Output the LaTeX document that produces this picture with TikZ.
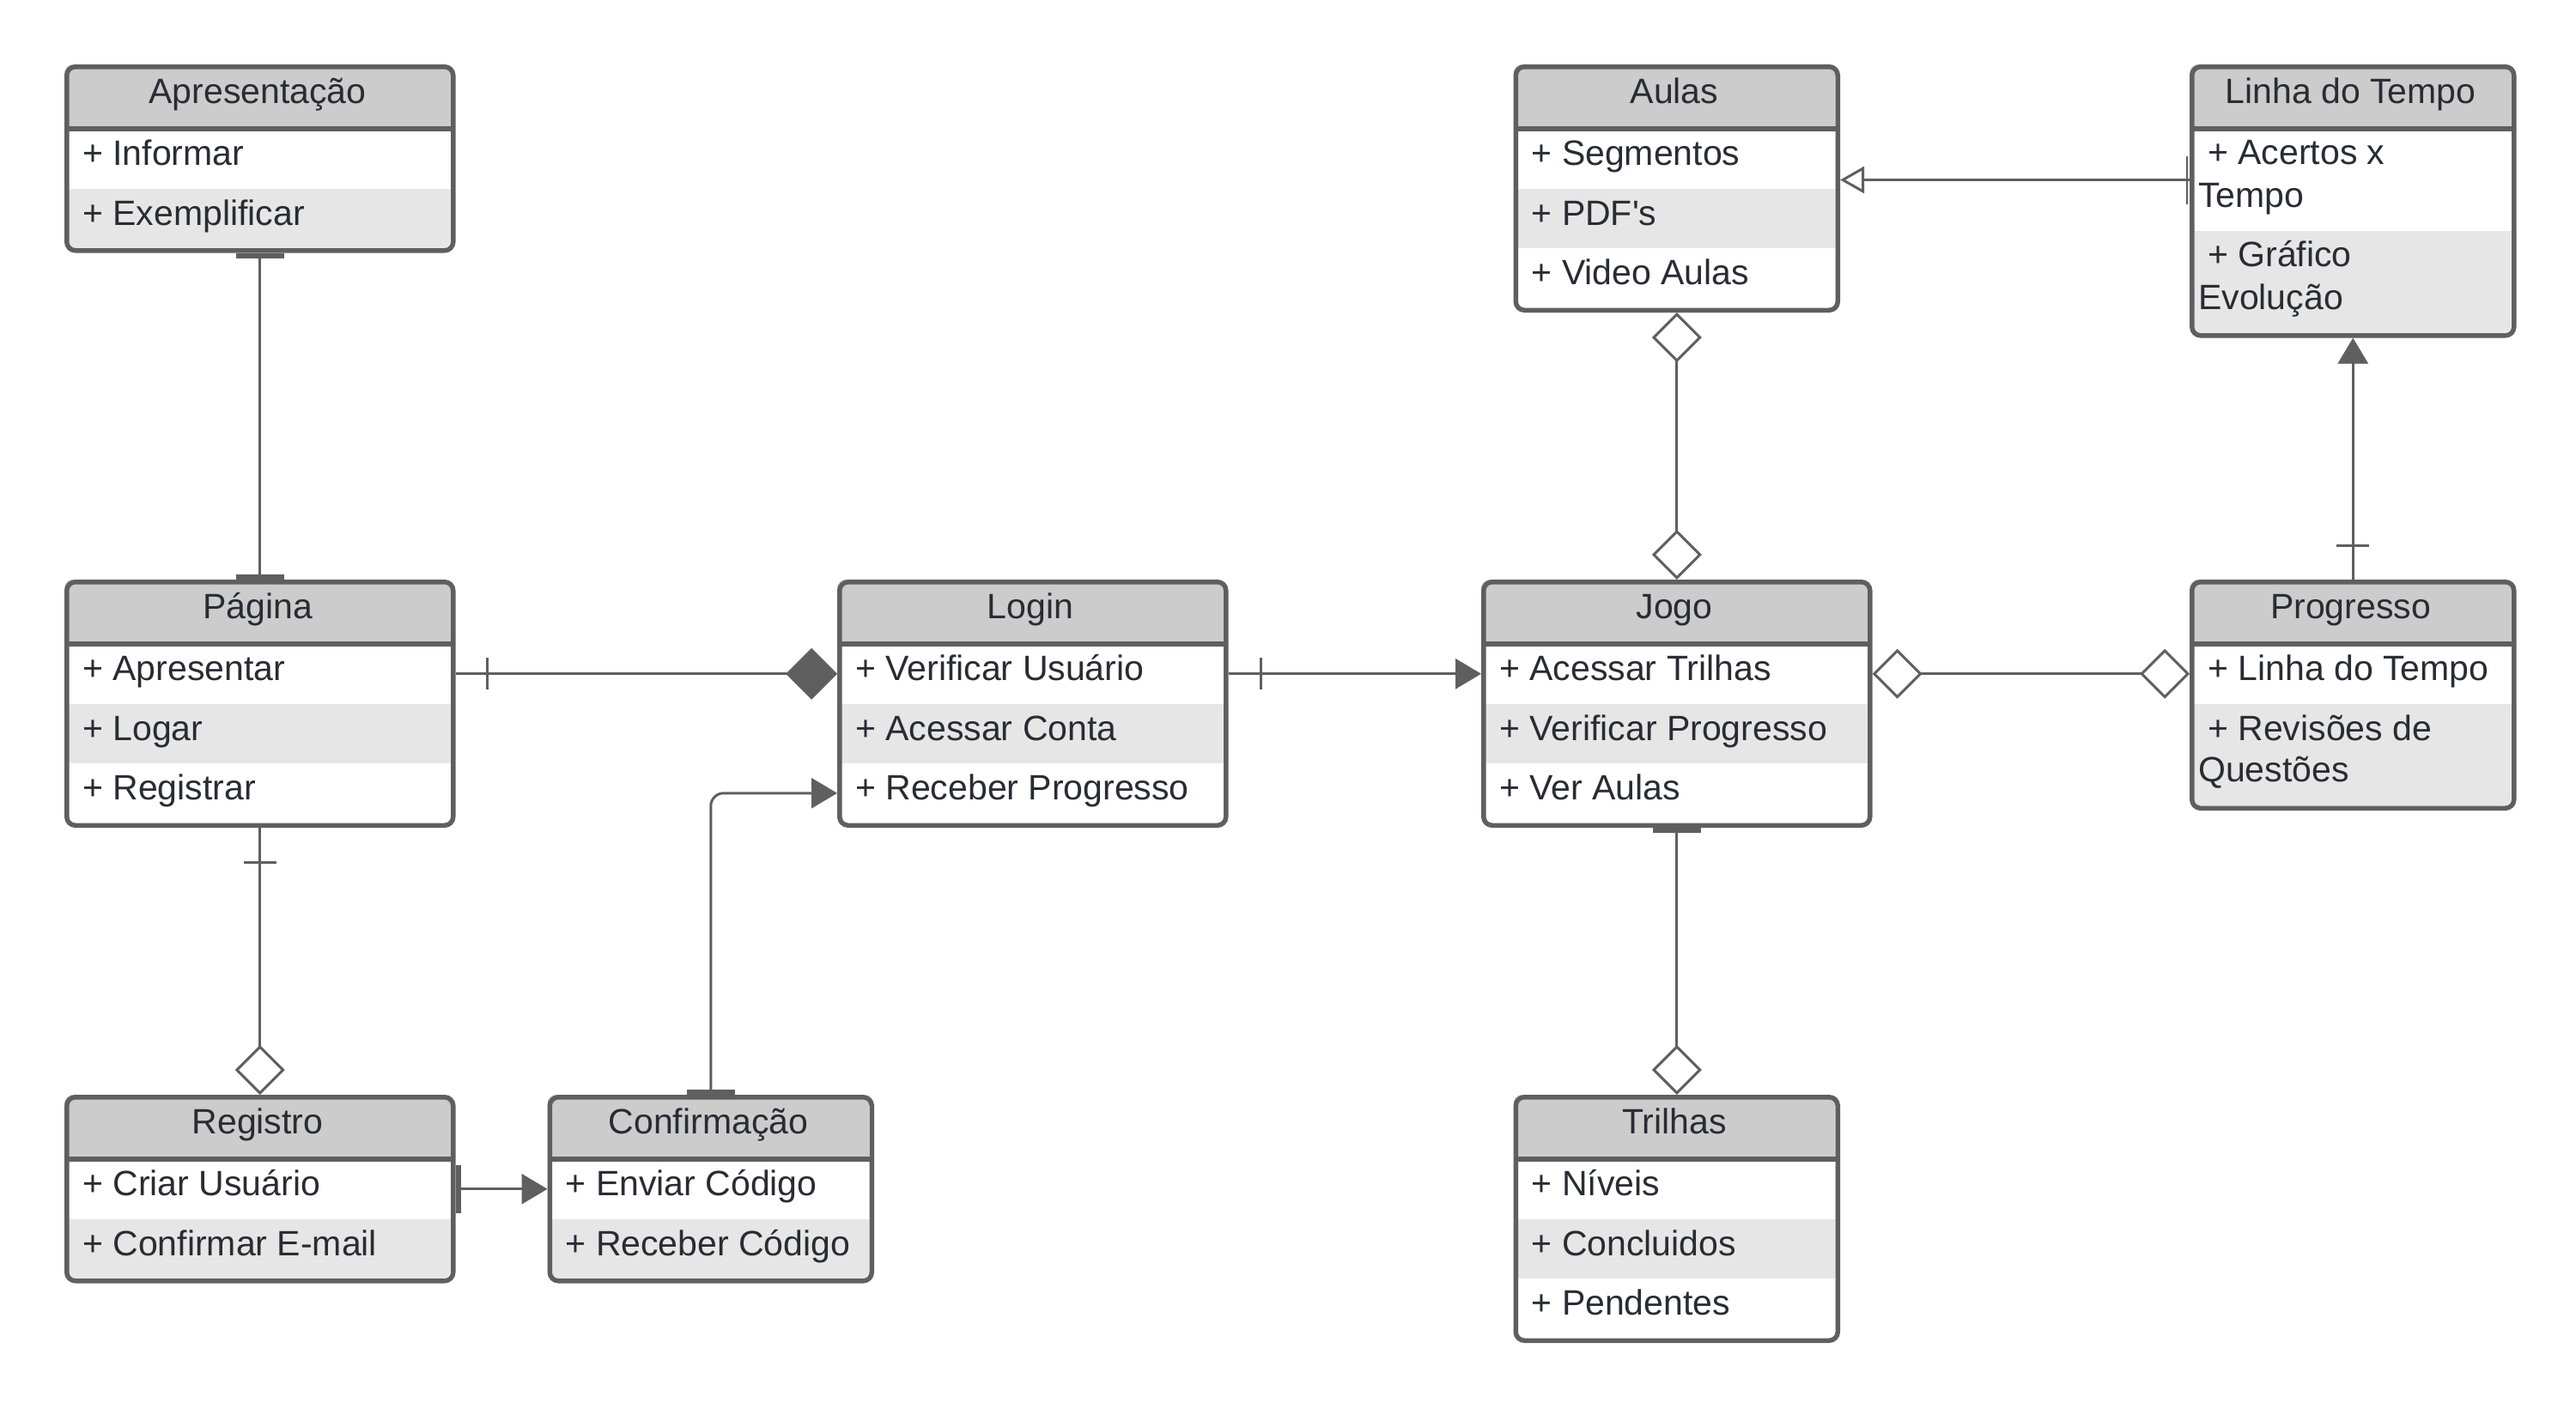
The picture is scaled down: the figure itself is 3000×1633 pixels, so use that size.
\documentclass[tikz,border=0pt]{standalone}
\usepackage{fontspec}
\setmainfont{Liberation Sans}[Ligatures=TeXOff]
\usetikzlibrary{arrows.meta,calc}
\definecolor{linec}{HTML}{5F5F5F}
\definecolor{hdrc}{HTML}{CCCCCC}
\definecolor{altc}{HTML}{E6E6E6}
\definecolor{txtc}{HTML}{282C33}
\tikzset{
  frame/.style={draw=linec, line width=5.5pt, rounded corners=10pt, inner sep=0pt, fill=none},
  seprule/.style={draw=linec, line width=5.5pt},
  rowbox/.style={inner sep=0pt, outer sep=0pt, draw=none, minimum height=69.5pt},
  tallrow/.style={rowbox, minimum height=119pt},
  txt/.style={inner sep=0pt, text=txtc, font=\fontsize{41}{50}\selectfont},
  conn/.style={draw=linec, line width=3pt},
  tickmark/.style={draw=linec, line width=3pt},
  UBar/.tip={Rectangle[length=6pt,width=56pt]},
  UTri/.tip={Triangle[length=30pt,width=35pt]},
  UOTri/.tip={Triangle[open,length=28pt,width=31pt]},
  UDia/.tip={Diamond[open,length=58pt,width=58pt]},
  UFDia/.tip={Diamond[length=60pt,width=60pt]},
}
\newcommand\rowA[5]{\node[rowbox, fill=#5, minimum width=#4, anchor=north west] (#1) at (#2,#3) {};}
\newcommand\rowB[5]{\node[tallrow, fill=#5, minimum width=#4, anchor=north west] (#1) at (#2,#3) {};}
\begin{document}
\begin{tikzpicture}[x=1pt,y=-1pt]
\fill[white] (0,0) rectangle (3000,1633);
\useasboundingbox (0,0) rectangle (3000,1633);

% ---------- Apresentacao
\begin{scope}
\clip[rounded corners=10pt] (75,75) rectangle (525,289);
\fill[hdrc] (75,75) rectangle (525,150);
\rowA{apr-1}{75}{150}{450pt}{white}
\rowA{apr-2}{75}{219.5}{450pt}{altc}
\end{scope}
\draw[seprule] (75,150) -- (525,150);
\node[frame, minimum width=450pt, minimum height=214pt, anchor=north west] (apr) at (75,75) {};
\node[txt, anchor=base] (apr-t) at (300,120) {Apresentação};
\node[txt, anchor=base west] (apr-a1) at ($(apr-1.west)+(21,8)$) {+ Informar};
\node[txt, anchor=base west] (apr-a2) at ($(apr-2.west)+(21,8)$) {+ Exemplificar};

% ---------- Aulas
\begin{scope}
\clip[rounded corners=10pt] (1762.5,75) rectangle (2137.5,358.5);
\fill[hdrc] (1762.5,75) rectangle (2137.5,150);
\rowA{aulas-1}{1762.5}{150}{375pt}{white}
\rowA{aulas-2}{1762.5}{219.5}{375pt}{altc}
\rowA{aulas-3}{1762.5}{289}{375pt}{white}
\end{scope}
\draw[seprule] (1762.5,150) -- (2137.5,150);
\node[frame, minimum width=375pt, minimum height=283.5pt, anchor=north west] (aulas) at (1762.5,75) {};
\node[txt, anchor=base] (aulas-t) at (1950,120) {Aulas};
\node[txt, anchor=base west] (aulas-a1) at ($(aulas-1.west)+(21,8)$) {+ Segmentos};
\node[txt, anchor=base west] (aulas-a2) at ($(aulas-2.west)+(21,8)$) {+ PDF's};
\node[txt, anchor=base west] (aulas-a3) at ($(aulas-3.west)+(21,8)$) {+ Video Aulas};

% ---------- Linha do Tempo
\begin{scope}
\clip[rounded corners=10pt] (2550,75) rectangle (2925,388);
\fill[hdrc] (2550,75) rectangle (2925,150);
\rowB{linha-1}{2550}{150}{375pt}{white}
\rowB{linha-2}{2550}{269}{375pt}{altc}
\end{scope}
\draw[seprule] (2550,150) -- (2925,150);
\node[frame, minimum width=375pt, minimum height=313pt, anchor=north west] (linha) at (2550,75) {};
\node[txt, anchor=base] (linha-t) at (2737.5,120) {Linha do Tempo};
\node[txt, anchor=base west] (linha-a1) at ($(linha-1.west)+(21,-18)$) {+ Acertos x};
\node[txt, anchor=base west] (linha-a1b) at ($(linha-1.west)+(10,32)$) {Tempo};
\node[txt, anchor=base west] (linha-a2) at ($(linha-2.west)+(21,-18)$) {+ Gráfico};
\node[txt, anchor=base west] (linha-a2b) at ($(linha-2.west)+(10,32)$) {Evolução};

% ---------- Pagina
\begin{scope}
\clip[rounded corners=10pt] (75,675) rectangle (525,958.5);
\fill[hdrc] (75,675) rectangle (525,750);
\rowA{pag-1}{75}{750}{450pt}{white}
\rowA{pag-2}{75}{819.5}{450pt}{altc}
\rowA{pag-3}{75}{889}{450pt}{white}
\end{scope}
\draw[seprule] (75,750) -- (525,750);
\node[frame, minimum width=450pt, minimum height=283.5pt, anchor=north west] (pag) at (75,675) {};
\node[txt, anchor=base] (pag-t) at (300,720) {Página};
\node[txt, anchor=base west] (pag-a1) at ($(pag-1.west)+(21,8)$) {+ Apresentar};
\node[txt, anchor=base west] (pag-a2) at ($(pag-2.west)+(21,8)$) {+ Logar};
\node[txt, anchor=base west] (pag-a3) at ($(pag-3.west)+(21,8)$) {+ Registrar};

% ---------- Login
\begin{scope}
\clip[rounded corners=10pt] (975,675) rectangle (1425,958.5);
\fill[hdrc] (975,675) rectangle (1425,750);
\rowA{login-1}{975}{750}{450pt}{white}
\rowA{login-2}{975}{819.5}{450pt}{altc}
\rowA{login-3}{975}{889}{450pt}{white}
\end{scope}
\draw[seprule] (975,750) -- (1425,750);
\node[frame, minimum width=450pt, minimum height=283.5pt, anchor=north west] (login) at (975,675) {};
\node[txt, anchor=base] (login-t) at (1200,720) {Login};
\node[txt, anchor=base west] (login-a1) at ($(login-1.west)+(21,8)$) {+ Verificar Usuário};
\node[txt, anchor=base west] (login-a2) at ($(login-2.west)+(21,8)$) {+ Acessar Conta};
\node[txt, anchor=base west] (login-a3) at ($(login-3.west)+(21,8)$) {+ Receber Progresso};

% ---------- Jogo
\begin{scope}
\clip[rounded corners=10pt] (1725,675) rectangle (2175,958.5);
\fill[hdrc] (1725,675) rectangle (2175,750);
\rowA{jogo-1}{1725}{750}{450pt}{white}
\rowA{jogo-2}{1725}{819.5}{450pt}{altc}
\rowA{jogo-3}{1725}{889}{450pt}{white}
\end{scope}
\draw[seprule] (1725,750) -- (2175,750);
\node[frame, minimum width=450pt, minimum height=283.5pt, anchor=north west] (jogo) at (1725,675) {};
\node[txt, anchor=base] (jogo-t) at (1950,720) {Jogo};
\node[txt, anchor=base west] (jogo-a1) at ($(jogo-1.west)+(21,8)$) {+ Acessar Trilhas};
\node[txt, anchor=base west] (jogo-a2) at ($(jogo-2.west)+(21,8)$) {+ Verificar Progresso};
\node[txt, anchor=base west] (jogo-a3) at ($(jogo-3.west)+(21,8)$) {+ Ver Aulas};

% ---------- Progresso
\begin{scope}
\clip[rounded corners=10pt] (2550,675) rectangle (2925,938.5);
\fill[hdrc] (2550,675) rectangle (2925,750);
\rowA{prog-1}{2550}{750}{375pt}{white}
\rowB{prog-2}{2550}{819.5}{375pt}{altc}
\end{scope}
\draw[seprule] (2550,750) -- (2925,750);
\node[frame, minimum width=375pt, minimum height=263.5pt, anchor=north west] (prog) at (2550,675) {};
\node[txt, anchor=base] (prog-t) at (2737.5,720) {Progresso};
\node[txt, anchor=base west] (prog-a1) at ($(prog-1.west)+(21,8)$) {+ Linha do Tempo};
\node[txt, anchor=base west] (prog-a2) at ($(prog-2.west)+(21,-17)$) {+ Revisões de};
\node[txt, anchor=base west] (prog-a2b) at ($(prog-2.west)+(10,31)$) {Questões};

% ---------- Registro
\begin{scope}
\clip[rounded corners=10pt] (75,1275) rectangle (525,1489);
\fill[hdrc] (75,1275) rectangle (525,1350);
\rowA{reg-1}{75}{1350}{450pt}{white}
\rowA{reg-2}{75}{1419.5}{450pt}{altc}
\end{scope}
\draw[seprule] (75,1350) -- (525,1350);
\node[frame, minimum width=450pt, minimum height=214pt, anchor=north west] (reg) at (75,1275) {};
\node[txt, anchor=base] (reg-t) at (300,1320) {Registro};
\node[txt, anchor=base west] (reg-a1) at ($(reg-1.west)+(21,8)$) {+ Criar Usuário};
\node[txt, anchor=base west] (reg-a2) at ($(reg-2.west)+(21,8)$) {+ Confirmar E-mail};

% ---------- Confirmacao
\begin{scope}
\clip[rounded corners=10pt] (637.5,1275) rectangle (1012.5,1489);
\fill[hdrc] (637.5,1275) rectangle (1012.5,1350);
\rowA{conf-1}{637.5}{1350}{375pt}{white}
\rowA{conf-2}{637.5}{1419.5}{375pt}{altc}
\end{scope}
\draw[seprule] (637.5,1350) -- (1012.5,1350);
\node[frame, minimum width=375pt, minimum height=214pt, anchor=north west] (conf) at (637.5,1275) {};
\node[txt, anchor=base] (conf-t) at (825,1320) {Confirmação};
\node[txt, anchor=base west] (conf-a1) at ($(conf-1.west)+(21,8)$) {+ Enviar Código};
\node[txt, anchor=base west] (conf-a2) at ($(conf-2.west)+(21,8)$) {+ Receber Código};

% ---------- Trilhas
\begin{scope}
\clip[rounded corners=10pt] (1762.5,1275) rectangle (2137.5,1558.5);
\fill[hdrc] (1762.5,1275) rectangle (2137.5,1350);
\rowA{tril-1}{1762.5}{1350}{375pt}{white}
\rowA{tril-2}{1762.5}{1419.5}{375pt}{altc}
\rowA{tril-3}{1762.5}{1489}{375pt}{white}
\end{scope}
\draw[seprule] (1762.5,1350) -- (2137.5,1350);
\node[frame, minimum width=375pt, minimum height=283.5pt, anchor=north west] (tril) at (1762.5,1275) {};
\node[txt, anchor=base] (tril-t) at (1950,1320) {Trilhas};
\node[txt, anchor=base west] (tril-a1) at ($(tril-1.west)+(21,8)$) {+ Níveis};
\node[txt, anchor=base west] (tril-a2) at ($(tril-2.west)+(21,8)$) {+ Concluidos};
\node[txt, anchor=base west] (tril-a3) at ($(tril-3.west)+(21,8)$) {+ Pendentes};

% ---------- connectors
\draw[conn, {UBar}-{UBar}] (apr.south) -- (pag.north);

\draw[conn, -{UFDia}] (pag.east |- pag-1.east) -- (login.west |- login-1.west);
\draw[tickmark] ($(pag.east |- pag-1.east)+(37,-18.5)$) -- ($(pag.east |- pag-1.east)+(37,18.5)$);

\draw[conn, -{UDia}] (pag.south) -- (reg.north);
\draw[tickmark] ($(pag.south)+(-19,40)$) -- ($(pag.south)+(19,40)$);

\draw[conn, {UBar}-{UTri}] (reg.east |- reg-1.east) -- (conf.west |- conf-1.west);

\draw[conn, rounded corners=15pt, {UBar}-{UTri}] (conf.north) |- (login.west |- login-3.west);

\draw[conn, -{UTri}] (login.east |- login-1.east) -- (jogo.west |- jogo-1.west);
\draw[tickmark] ($(login.east |- login-1.east)+(38,-18.5)$) -- ($(login.east |- login-1.east)+(38,18.5)$);

\draw[conn, {UDia}-{UDia}] (jogo.north) -- (aulas.south);

\draw[conn, {UBar}-{UDia}] (jogo.south) -- (tril.north);

\draw[conn, {UDia}-{UDia}] (jogo.east |- jogo-1.east) -- (prog.west |- prog-1.west);

\draw[conn, -{UTri}] (prog.north) -- (linha.south);
\draw[tickmark] ($(prog.north)+(-19,-40)$) -- ($(prog.north)+(19,-40)$);

\draw[conn, -{UOTri}] (linha.west |- linha-1.west) -- (aulas.east |- linha-1.west);
\draw[draw=linec, line width=2.5pt] ($(linha.west |- linha-1.west)+(-3,-28)$) -- ($(linha.west |- linha-1.west)+(-3,28)$);

\end{tikzpicture}
\end{document}
